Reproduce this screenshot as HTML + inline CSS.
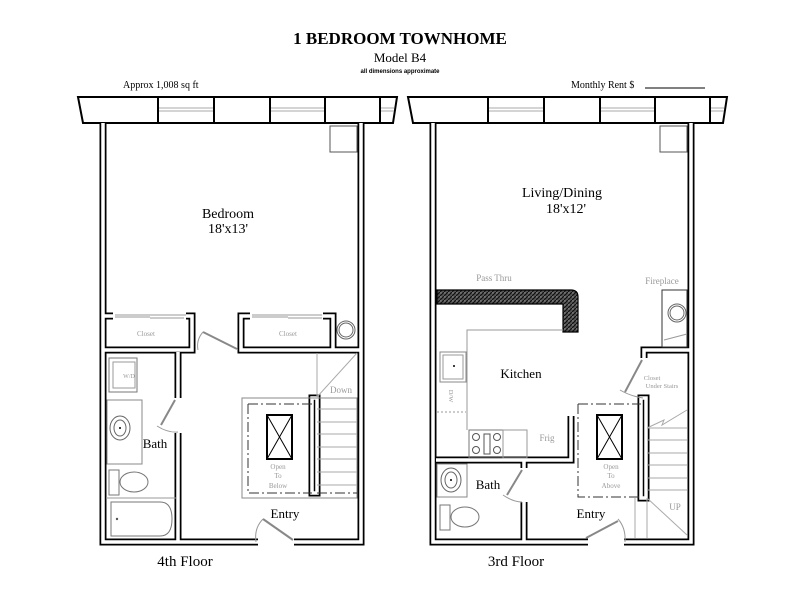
<!DOCTYPE html>
<html><head><meta charset="utf-8"><style>
html,body{margin:0;padding:0;background:#fff;}
svg{display:block;}
text{font-family:"Liberation Serif",serif;}
text.sans{font-family:"Liberation Sans",sans-serif;}
</style></head><body>
<svg width="800" height="600" viewBox="0 0 800 600" xmlns="http://www.w3.org/2000/svg">
<defs>
<pattern id="hatch" width="4" height="4" patternUnits="userSpaceOnUse">
<rect width="4" height="4" fill="#555"/>
<path d="M0,4 L4,0" stroke="#111" stroke-width="1.2"/>
<circle cx="1" cy="1" r="0.6" fill="#aaa"/>
</pattern>
<g id="band">
<polygon points="78,97 397,97 393,123 83,123" fill="#fff" stroke="#000" stroke-width="2"/>
<g stroke="#000" stroke-width="2"><line x1="158" y1="97" x2="158" y2="123"/><line x1="214" y1="97" x2="214" y2="123"/><line x1="270" y1="97" x2="270" y2="123"/><line x1="325" y1="97" x2="325" y2="123"/><line x1="380" y1="97" x2="380" y2="123"/></g>
<g stroke="#aaa" stroke-width="1"><line x1="159" y1="108" x2="213" y2="108"/><line x1="159" y1="111" x2="213" y2="111"/><line x1="271" y1="108" x2="324" y2="108"/><line x1="271" y1="111" x2="324" y2="111"/><line x1="381" y1="108" x2="394" y2="108"/><line x1="381" y1="111" x2="394" y2="111"/></g>
</g>
</defs>

<text x="400" y="44" text-anchor="middle" font-size="17" font-weight="bold">1 BEDROOM TOWNHOME</text>
<text x="400" y="62" text-anchor="middle" font-size="13">Model B4</text>
<text x="400" y="73" text-anchor="middle" font-size="6" class="sans" font-weight="bold">all dimensions approximate</text>
<text x="123" y="88" font-size="10">Approx 1,008 sq ft</text>
<text x="571" y="88" font-size="10">Monthly Rent  $</text>
<line x1="645" y1="88" x2="705" y2="88" stroke="#000" stroke-width="1"/>

<use href="#band"/>
<use href="#band" transform="translate(330,0)"/>

<!-- LEFT -->
<g fill="none" stroke-linejoin="miter">
<g stroke="#000" stroke-width="7">
<path d="M103,123 V542 H258 M294,542 H361 V123"/>
<path d="M103,316 H113 M186,316 H192 V350 H103"/>
<path d="M250,316 H241 V350 H361 M323,316 H333 V350"/>
<path d="M178,352 V398 M178,433 V542"/>
<rect x="312" y="398" width="5" height="95"/>
</g>
<g stroke="#fff" stroke-width="3.5">
<path d="M103,123 V542 H258 M294,542 H361 V123"/>
<path d="M103,316 H113 M186,316 H192 V350 H103"/>
<path d="M250,316 H241 V350 H361 M323,316 H333 V350"/>
<path d="M178,352 V398 M178,433 V542"/>
<rect x="312" y="398" width="5" height="95"/>
</g>
</g>
<g fill="none" stroke="#999" stroke-width="1">
<rect x="330" y="126" width="27" height="26" stroke="#555"/>
<line x1="115" y1="315" x2="186" y2="315"/><line x1="115" y1="317" x2="150" y2="317"/><line x1="150" y1="318" x2="184" y2="318"/>
<line x1="252" y1="315" x2="322" y2="315"/><line x1="252" y1="317" x2="288" y2="317"/><line x1="288" y1="318" x2="322" y2="318"/>
<circle cx="346" cy="330" r="9" stroke="#666"/><circle cx="346" cy="330" r="7" stroke="#666"/>
<line x1="203" y1="332" x2="237" y2="349" stroke="#888" stroke-width="2"/>
<path d="M203,332 Q196,340 198,350"/>
<rect x="109" y="358" width="28" height="34" stroke="#777"/><rect x="113" y="362" width="22" height="26"/>
<rect x="107" y="400" width="35" height="64" stroke="#888"/>
<ellipse cx="120" cy="428" rx="10" ry="12" stroke="#666"/><ellipse cx="120" cy="428" rx="6" ry="8" stroke="#666"/>
<line x1="175" y1="400" x2="161" y2="425" stroke="#888" stroke-width="2"/><path d="M157,426 Q168,433 178,432"/>
<rect x="109" y="470" width="10" height="25" stroke="#777"/><ellipse cx="134" cy="482" rx="14" ry="10" stroke="#777"/>
<line x1="106" y1="498" x2="176" y2="498"/>
<path d="M111,502 H160 Q172,502 172,519 Q172,536 160,536 H111 Z" stroke="#777"/>
<rect x="242" y="398" width="115" height="100" stroke="#888"/>
<path d="M248,404 H312 M317,493 H357 M248,404 V493 H312" stroke="#333" stroke-dasharray="10,3,2,3"/>
<g stroke="#aaa"><line x1="317" y1="409" x2="357" y2="409"/><line x1="317" y1="422" x2="357" y2="422"/><line x1="317" y1="434" x2="357" y2="434"/><line x1="317" y1="447" x2="357" y2="447"/><line x1="317" y1="459" x2="357" y2="459"/><line x1="317" y1="472" x2="357" y2="472"/><line x1="317" y1="485" x2="357" y2="485"/>
<line x1="317" y1="353" x2="317" y2="397"/><line x1="317" y1="397" x2="357" y2="353"/></g>
<line x1="263" y1="519" x2="293" y2="540" stroke="#888" stroke-width="2"/><path d="M263,519 Q254,528 256,542"/>
</g>
<rect x="267" y="415" width="25" height="44" fill="none" stroke="#000" stroke-width="2"/>
<path d="M267,415 L292,459 M292,415 L267,459" stroke="#000" stroke-width="1"/>
<circle cx="120" cy="428" r="1" fill="#000"/>
<circle cx="117" cy="519" r="1.2" fill="#555"/>

<g fill="#000">
<text x="228" y="218" text-anchor="middle" font-size="14">Bedroom</text>
<text x="228" y="233" text-anchor="middle" font-size="14">18'x13'</text>
<text x="155" y="448" text-anchor="middle" font-size="13">Bath</text>
<text x="285" y="518" text-anchor="middle" font-size="13">Entry</text>
<text x="185" y="566" text-anchor="middle" font-size="15">4th Floor</text>
</g>
<g fill="#999" font-size="7">
<text x="146" y="336" text-anchor="middle">Closet</text>
<text x="288" y="336" text-anchor="middle">Closet</text>
<text x="129" y="378" text-anchor="middle" font-size="6">W/D</text>
<text x="341" y="393" text-anchor="middle" font-size="9">Down</text>
<text x="278" y="469" text-anchor="middle">Open</text>
<text x="278" y="478" text-anchor="middle">To</text>
<text x="278" y="488" text-anchor="middle">Below</text>
</g>

<!-- RIGHT -->
<g fill="none">
<g stroke="#000" stroke-width="7">
<path d="M433,123 V542 H588 M624,542 H691 V123"/>
<path d="M436,460 H571 V416"/>
<path d="M524,460 V468 M524,502 V542"/>
<path d="M644,358 V350 H690"/>
<rect x="641" y="398" width="5" height="100"/>
</g>
<g stroke="#fff" stroke-width="3.5">
<path d="M433,123 V542 H588 M624,542 H691 V123"/>
<path d="M436,460 H571 V416"/>
<path d="M524,460 V468 M524,502 V542"/>
<path d="M644,358 V350 H690"/>
<rect x="641" y="398" width="5" height="100"/>
</g>
</g>
<path d="M437,290 H571 Q578,290 578,297 V332 H563 V304 H437 Z" fill="url(#hatch)" stroke="#000" stroke-width="1.2"/>
<g fill="none" stroke="#999" stroke-width="1">
<rect x="660" y="126" width="27" height="26" stroke="#555"/>
<path d="M563,330 H467 V430" />
<rect x="440" y="352" width="26" height="30" stroke="#888"/><rect x="443" y="355" width="20" height="24"/>
<line x1="437" y1="412" x2="466" y2="412" stroke-dasharray="2,2"/>
<rect x="469" y="430" width="34" height="28" stroke="#777"/>
<rect x="503" y="430" width="24" height="28"/>
<circle cx="476" cy="437" r="3.5" stroke="#555"/><circle cx="476" cy="450" r="3.5" stroke="#555"/><circle cx="497" cy="437" r="3.5" stroke="#555"/><circle cx="497" cy="450" r="3.5" stroke="#555"/>
<rect x="484" y="434" width="6" height="20" stroke="#555"/>
<rect x="662" y="290" width="25" height="57" stroke="#333"/>
<circle cx="677" cy="313" r="9" stroke="#666"/><circle cx="677" cy="313" r="7" stroke="#666"/>
<line x1="664" y1="340" x2="687" y2="334"/>
<line x1="642" y1="360" x2="625" y2="392" stroke="#888" stroke-width="2"/><path d="M620,390 Q630,396 643,398"/>
<rect x="437" y="464" width="30" height="33" stroke="#888"/>
<ellipse cx="451" cy="480" rx="10" ry="12" stroke="#666"/><ellipse cx="451" cy="480" rx="6" ry="8" stroke="#666"/>
<rect x="440" y="505" width="10" height="25" stroke="#777"/><ellipse cx="465" cy="517" rx="14" ry="10" stroke="#777"/>
<line x1="522" y1="470" x2="507" y2="495" stroke="#888" stroke-width="2"/><path d="M503,495 Q513,502 522,502"/>
<path d="M578,404 H641 M578,404 V497 H641" stroke="#333" stroke-dasharray="10,3,2,3"/>
<g stroke="#aaa"><line x1="647" y1="428" x2="687" y2="428"/><line x1="647" y1="440" x2="687" y2="440"/><line x1="647" y1="453" x2="687" y2="453"/><line x1="647" y1="465" x2="687" y2="465"/><line x1="647" y1="478" x2="687" y2="478"/><line x1="647" y1="490" x2="687" y2="490"/>
<path d="M647,428 L664,420 L662,425 L687,410"/>
<line x1="647" y1="498" x2="687" y2="535"/><line x1="647" y1="498" x2="647" y2="538"/><line x1="635" y1="498" x2="635" y2="538"/></g>
<line x1="586" y1="538" x2="618" y2="521" stroke="#888" stroke-width="2"/><path d="M618,519 Q626,528 625,542"/>
</g>
<rect x="597" y="415" width="25" height="44" fill="none" stroke="#000" stroke-width="2"/>
<path d="M597,415 L622,459 M622,415 L597,459" stroke="#000" stroke-width="1"/>
<circle cx="454" cy="366" r="1" fill="#000"/><circle cx="451" cy="480" r="1" fill="#000"/>

<g fill="#000">
<text x="562" y="197" text-anchor="middle" font-size="14">Living/Dining</text>
<text x="566" y="213" text-anchor="middle" font-size="14">18'x12'</text>
<text x="521" y="378" text-anchor="middle" font-size="13">Kitchen</text>
<text x="488" y="489" text-anchor="middle" font-size="13">Bath</text>
<text x="591" y="518" text-anchor="middle" font-size="13">Entry</text>
<text x="516" y="566" text-anchor="middle" font-size="15">3rd Floor</text>
</g>
<g fill="#999" font-size="9">
<text x="494" y="281" text-anchor="middle">Pass Thru</text>
<text x="662" y="284" text-anchor="middle">Fireplace</text>
<text x="547" y="441" text-anchor="middle">Frig</text>
<text x="675" y="510" text-anchor="middle">UP</text>
<text x="652" y="380" text-anchor="middle" font-size="6.5">Closet</text>
<text x="662" y="388" text-anchor="middle" font-size="6.5">Under Stairs</text>
<text x="611" y="469" text-anchor="middle" font-size="7">Open</text>
<text x="611" y="478" text-anchor="middle" font-size="7">To</text>
<text x="611" y="488" text-anchor="middle" font-size="7">Above</text>
<text x="0" y="0" font-size="6.5" text-anchor="middle" transform="translate(449,396) rotate(90)">D/W</text>
</g>
</svg>
</body></html>
